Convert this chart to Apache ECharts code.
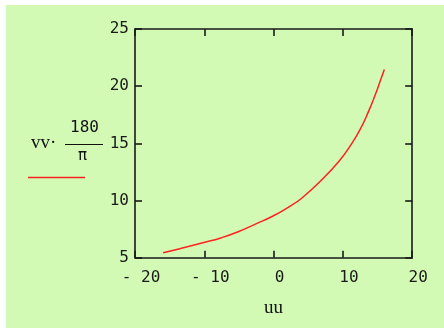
<!DOCTYPE html>
<html><head><meta charset="utf-8">
<script src="https://cdn.jsdelivr.net/npm/echarts@6/dist/echarts.min.js"></script>
<style>html,body{margin:0;padding:0;background:#fff}#c{width:444px;height:329px}</style>
</head><body><div id="c"></div>
<script>
var uu = [-15.94, -13.53, -9.92, -7.51, -5.11, -2.70, -0.29, 2.11, 4.05, 7.17, 9.58, 11.03, 12.47, 13.67, 14.64, 15.36, 15.98];
var vvDeg = [5.44, 5.79, 6.35, 6.75, 7.27, 7.92, 8.58, 9.41, 10.2, 11.94, 13.54, 14.75, 16.2, 17.75, 19.2, 20.4, 21.45];
var xTicks = [-20, -10, 0, 10, 20];
var yTicks = [5, 10, 15, 20, 25];

var chart = echarts.init(document.getElementById('c'), null, {renderer: 'canvas'});
var mono = 'DejaVu Sans Mono';
var axisCommon = {
  axisLine: {show: true, onZero: false, lineStyle: {color: '#1a1a1a', width: 1.6}},
  axisTick: {show: true, inside: true, length: 7, lineStyle: {color: '#1a1a1a', width: 1.6}},
  splitLine: {show: false}
};
var fmt = function (v) { return v < 0 ? '- ' + Math.abs(v) : String(v); };
chart.setOption({
  backgroundColor: '#fff',
  animation: false,
  graphic: [
    {type: 'rect', shape: {x: 6, y: 5, width: 438, height: 323}, style: {fill: '#d2fab4'}, z: -10},
    {type: 'text', left: 31, top: 134, style: {text: 'vv·', font: '19px "Liberation Serif"', fill: '#111'}},
    {type: 'text', left: 70, top: 120, style: {text: '180', font: '16px "DejaVu Sans Mono"', fill: '#111'}},
    {type: 'line', shape: {x1: 65, y1: 144.5, x2: 103, y2: 144.5}, style: {stroke: '#111', lineWidth: 1.2}},
    {type: 'text', left: 78, top: 149, style: {text: 'π', font: '15px "DejaVu Sans"', fill: '#111'}},
    {type: 'line', shape: {x1: 28, y1: 177.5, x2: 85, y2: 177.5}, style: {stroke: '#ff2020', lineWidth: 1.5}}
  ],
  grid: {left: 135, right: 31.8, top: 29, bottom: 71.3, containLabel: false},
  xAxis: [
    Object.assign({type: 'value', position: 'bottom', min: xTicks[0], max: xTicks[xTicks.length - 1], interval: 10,
      name: 'uu', nameLocation: 'middle', nameGap: 41,
      nameTextStyle: {fontFamily: 'Liberation Serif', fontSize: 19, color: '#111'},
      axisLabel: {formatter: fmt, fontFamily: mono, fontSize: 16, color: '#1a1a1a', margin: 12, padding: [0, 0, 0, 12]}}, axisCommon),
    Object.assign({type: 'value', position: 'top', min: xTicks[0], max: xTicks[xTicks.length - 1], interval: 10,
      axisLabel: {show: false}}, axisCommon)
  ],
  yAxis: [
    Object.assign({type: 'value', position: 'left', min: yTicks[0], max: yTicks[yTicks.length - 1], interval: 5,
      axisLabel: {fontFamily: mono, fontSize: 16, color: '#1a1a1a', margin: 6, padding: [4, 0, 0, 0]}}, axisCommon),
    Object.assign({type: 'value', position: 'right', min: yTicks[0], max: yTicks[yTicks.length - 1], interval: 5,
      axisLabel: {show: false}}, axisCommon)
  ],
  series: [{
    type: 'line',
    data: uu.map(function (u, i) { return [u, vvDeg[i]]; }),
    showSymbol: false,
    smooth: 0.5,
    lineStyle: {color: '#ff2020', width: 1.5}
  }]
});
</script></body></html>
